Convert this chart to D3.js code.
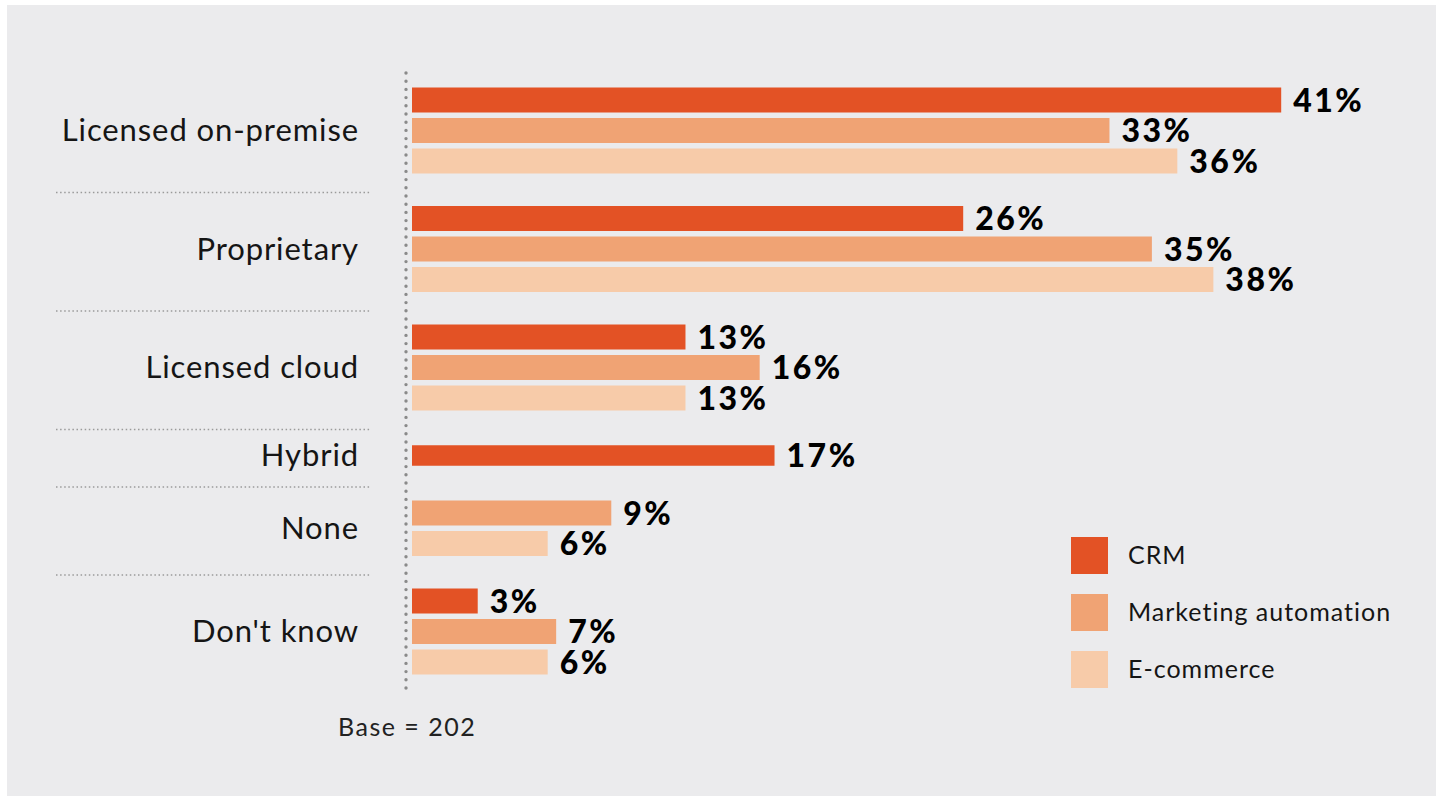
<!DOCTYPE html>
<html>
<head>
<meta charset="utf-8">
<script src="https://cdn.jsdelivr.net/npm/d3@7"></script>
<style>
  body { margin: 0; background: #ffffff; }
  svg { display: block; }
</style>
</head>
<body>
<div id="vizArea"></div>
<script>
var w = 1442
var h = 796

// DATA ********************************
var categories = ["Licensed on-premise", "Proprietary", "Licensed cloud", "Hybrid", "None", "Don't know"]
var seriesNames = ["CRM", "Marketing automation", "E-commerce"]
// null = no bar for that answer
var crm = [41.0, 26.0, 12.9, 17.1, null, 3.1]
var marketing = [32.9, 34.9, 16.4, null, 9.4, 6.8]
var ecommerce = [36.1, 37.8, 12.9, null, 6.4, 6.4]
var baseNote = "Base = 202"

var seriesValues = [crm, marketing, ecommerce]
var colors = ["#e35225", "#f0a374", "#f7cba9"]

// SET-UP ********************************
var svg = d3.select("#vizArea").append("svg")
    .attr("width", w)
    .attr("height", h)

svg.append("rect")
    .attr("x", 7).attr("y", 5)
    .attr("width", 1429).attr("height", 791)
    .attr("fill", "#ebebed")

var x = d3.scaleLinear().domain([0, 100]).range([412, 412 + 2120])

var barStep = 30.5
var barH = 25
var groupPad = 27
var topY = 74

// build a group per category with the series that have values
var groups = []
var cursor = topY
categories.forEach(function(cat, i) {
    var bars = []
    seriesValues.forEach(function(vals, s) {
        if (vals[i] != null) bars.push({series: s, value: vals[i]})
    })
    var n = bars.length
    var band = n * barStep + groupPad
    var inner = d3.scaleBand()
        .domain(bars.map(function(b) { return b.series }))
        .range([cursor + 13.5, cursor + 13.5 + n * barStep - (barStep - barH)])
        .paddingInner((barStep - barH) / barStep)
        .paddingOuter(0)
    groups.push({name: cat, top: cursor, bottom: cursor + band, bars: bars, inner: inner})
    cursor += band
})

// separators between groups
groups.slice(0, -1).forEach(function(g) {
    svg.append("line")
        .attr("x1", 56).attr("x2", 370)
        .attr("y1", g.bottom).attr("y2", g.bottom)
        .attr("stroke", "#9a9a9a")
        .attr("stroke-width", 1.5)
        .attr("stroke-dasharray", "1.5 2.6")
})

// dotted axis
svg.append("line")
    .attr("x1", 406).attr("x2", 406)
    .attr("y1", 73).attr("y2", 688)
    .attr("stroke", "#8a8a8a")
    .attr("stroke-width", 3.4)
    .attr("stroke-linecap", "round")
    .attr("stroke-dasharray", "0 8.2")

// category labels
groups.forEach(function(g) {
    var r = g.inner.range()
    var cy = (r[0] + r[1]) / 2
    svg.append("text")
        .attr("x", 359)
        .attr("y", cy)
        .attr("dy", "0.35em")
        .attr("text-anchor", "end")
        .style("font-family", "Lato, sans-serif")
        .style("font-size", "31px")
        .style("letter-spacing", "0.9px")
        .style("fill", "#151515")
        .text(g.name)
})

// bars + value labels
groups.forEach(function(g) {
    var gg = svg.append("g")
    gg.selectAll("rect")
        .data(g.bars)
        .enter()
        .append("rect")
        .attr("x", x(0))
        .attr("y", function(d) { return g.inner(d.series) })
        .attr("width", function(d) { return x(d.value) - x(0) })
        .attr("height", g.inner.bandwidth())
        .attr("fill", function(d) { return colors[d.series] })

    gg.selectAll("text")
        .data(g.bars)
        .enter()
        .append("text")
        .attr("x", function(d) { return x(d.value) + 12 })
        .attr("y", function(d) { return g.inner(d.series) + g.inner.bandwidth() / 2 })
        .attr("dy", "0.36em")
        .style("font-family", "Lato, sans-serif")
        .style("font-weight", 900)
        .style("font-size", "32px")
        .style("letter-spacing", "2.5px")
        .style("fill", "#000")
        .text(function(d) { return Math.round(d.value) + "%" })
})

// legend
var legend = svg.append("g").attr("transform", "translate(1071,537)")
var items = legend.selectAll("g")
    .data(seriesNames)
    .enter()
    .append("g")
    .attr("transform", function(d, i) { return "translate(0," + (i * 57) + ")" })
items.append("rect")
    .attr("width", 37).attr("height", 37)
    .attr("fill", function(d, i) { return colors[i] })
items.append("text")
    .attr("x", 57)
    .attr("y", 18.5)
    .attr("dy", "0.35em")
    .style("font-family", "Lato, sans-serif")
    .style("font-size", "25px")
    .style("letter-spacing", "1px")
    .style("fill", "#151515")
    .text(function(d) { return d })

// base note
svg.append("text")
    .attr("x", 338)
    .attr("y", 727)
    .attr("dy", "0.35em")
    .style("font-family", "Lato, sans-serif")
    .style("font-size", "25px")
    .style("letter-spacing", "1.5px")
    .style("fill", "#222")
    .text(baseNote)
</script>
</body>
</html>
